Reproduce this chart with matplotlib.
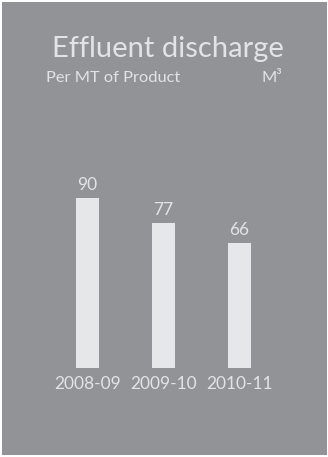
import matplotlib
matplotlib.use("Agg")
import matplotlib.pyplot as plt

years = ["2008-09", "2009-10", "2010-11"]
discharge = [90, 77, 66]

W, H = 328, 457
DPI = 100
panel = "#929397"
light = "#e6e7e9"
text_col = "#e2e3e5"

plt.rcParams["font.family"] = ["Lato", "DejaVu Sans"]

fig = plt.figure(figsize=(W / DPI, H / DPI), dpi=DPI, facecolor="white")

# grey panel behind everything
bg = fig.add_axes([2 / W, 2 / H, 325 / W, 453 / H], zorder=-5)
bg.set_facecolor(panel)
bg.set_xticks([])
bg.set_yticks([])
for s in bg.spines.values():
    s.set_visible(False)

fig.text(168 / W, 1 - 57 / H, "Effluent discharge", color=text_col,
         fontsize=21, fontweight="normal", ha="center", va="baseline")
fig.text(46 / W, 1 - 82 / H, "Per MT of Product", color=text_col,
         fontsize=11.8, fontweight="normal", ha="left", va="baseline")
fig.text(282 / W, 1 - 82 / H, "M³", color=text_col,
         fontsize=11.8, fontweight="normal", ha="right", va="baseline")

# bar area: 76 px per category, zero line at 368 px from top
left_px, width_px = 30.5, 266
bottom_px = H - 368
ax = fig.add_axes([left_px / W, bottom_px / H, width_px / W, 188.9 / H])
ax.set_facecolor("none")
x = list(range(len(years)))
bars = ax.bar(x, discharge, width=0.30, color=light, edgecolor="none")
ax.set_xlim(-0.75, 2.75)
ax.set_ylim(0, 100)
for b, v in zip(bars, discharge):
    ax.annotate(str(v), (b.get_x() + b.get_width() / 2, v),
                xytext=(0, 3.5), textcoords="offset points",
                ha="center", va="bottom", color=text_col, fontsize=12.5,
                annotation_clip=False)
ax.set_xticks(x)
ax.set_xticklabels(years, color=text_col, fontsize=12.5)
ax.tick_params(axis="x", length=0, pad=5.5)
ax.set_yticks([])
for s in ax.spines.values():
    s.set_visible(False)

fig.savefig("out.png", dpi=DPI, facecolor=fig.get_facecolor())
